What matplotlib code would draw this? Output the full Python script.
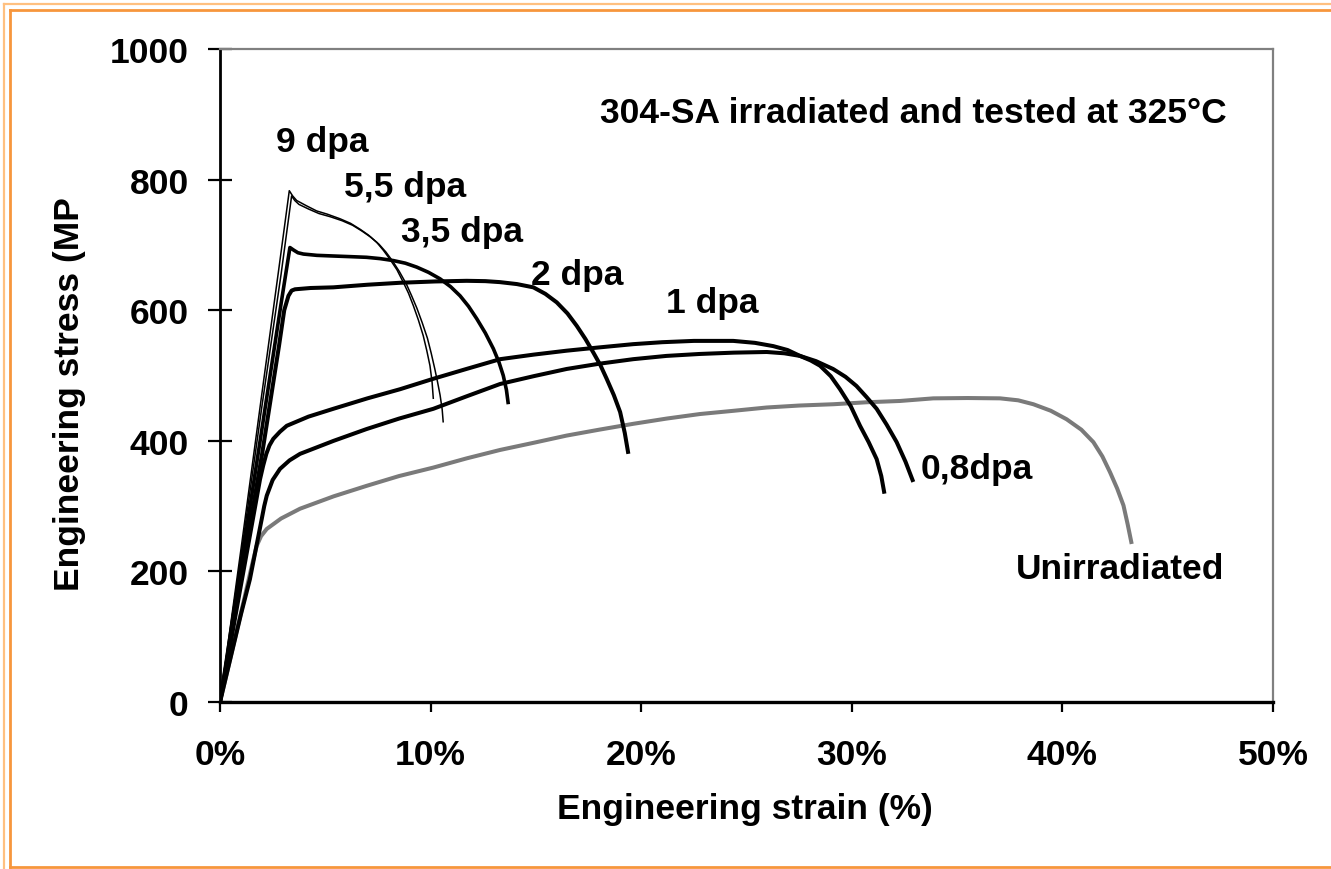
import matplotlib
matplotlib.use("Agg")
import matplotlib.pyplot as plt
from matplotlib.lines import Line2D

# ---- data (strain %, stress MPa) ----
dpa9_strain = [0, 1.0, 2.0, 2.8, 3.29, 3.45, 3.64, 4.1, 4.59, 5.1, 5.70, 6.2, 6.65, 7.05, 7.44, 7.75, 8.07,
               8.4, 8.70, 8.95, 9.18, 9.42, 9.65, 9.82, 9.97, 10.07, 10.13]
dpa9_stress = [0, 235, 475, 665, 783, 775, 768, 760, 752, 747, 740, 733, 724, 715, 704, 692, 678,
               662, 643, 626, 607, 585, 561, 538, 515, 490, 464]

dpa55_strain = [0, 1.0, 2.0, 2.9, 3.40, 3.55, 3.75, 4.2, 4.7, 5.25, 5.8, 6.3, 6.75, 7.15, 7.55, 7.88, 8.2,
                8.52, 8.85, 9.1, 9.35, 9.6, 9.85, 10.03, 10.2, 10.33, 10.45, 10.55, 10.6]
dpa55_stress = [0, 225, 455, 655, 775, 768, 762, 755, 748, 743, 737, 730, 721, 712, 701, 689, 675,
                659, 640, 622, 603, 581, 557, 534, 510, 490, 470, 448, 428]

dpa35_strain = [0, 1.0, 2.0, 2.9, 3.32, 3.5, 3.7, 3.96, 4.6, 5.38, 6.2, 6.96, 7.6, 8.23, 8.8, 9.34, 9.9,
                10.45, 10.95, 11.40, 11.8, 12.19, 12.6, 12.98, 13.25, 13.45, 13.6, 13.69]
dpa35_stress = [0, 210, 420, 610, 696, 692, 688, 686, 684, 683, 682, 681, 679, 676, 672, 666, 658,
                648, 636, 622, 606, 587, 565, 541, 520, 500, 478, 456]

dpa2_strain = [0, 1.0, 2.0, 2.8, 3.05, 3.25, 3.4, 3.56, 4.3, 5.38, 7.0, 8.55, 10.2, 11.71, 12.6, 13.29,
               14.1, 14.88, 15.45, 15.99, 16.5, 16.94, 17.35, 17.73, 18.06, 18.36, 18.7, 19.0, 19.22, 19.39]
dpa2_stress = [0, 190, 380, 545, 600, 622, 630, 632, 634, 635, 639, 642, 644, 645, 644.5, 643,
               640, 635, 625, 612, 595, 576, 556, 535, 516, 495, 470, 444, 412, 380]

dpa1_strain = [0, 1.0, 1.7, 1.9, 2.05, 2.2, 2.35, 2.53, 2.85, 3.17, 4.2, 5.38, 7.0, 8.55, 10.13, 11.7,
               13.3, 14.9, 16.46, 18.0, 19.62, 21.0, 22.5, 24.37, 25.4, 26.27, 26.95, 27.54, 28.05,
               28.49, 29.0, 29.44, 29.95, 30.39, 30.8, 31.18, 31.4, 31.55]
dpa1_stress = [0, 180, 305, 341, 362, 380, 393, 403, 414, 423, 437, 449, 465, 479, 495, 510,
               525, 532, 538, 543, 548, 551, 553, 553, 550, 545, 539, 530, 523,
               515, 499, 479, 453, 423, 398, 372, 346, 319]

dpa08_strain = [0, 1.0, 1.42, 1.98, 2.1, 2.22, 2.5, 2.85, 3.3, 3.80, 5.4, 6.96, 8.5, 10.13, 11.7, 13.3,
                14.9, 16.46, 18.0, 19.62, 21.2, 22.79, 24.4, 25.96, 26.8, 27.54, 28.3, 29.11, 29.7,
                30.22, 30.7, 31.18, 31.65, 32.13, 32.55, 32.92]
dpa08_stress = [0, 135, 188, 280, 300, 316, 340, 357, 370, 380, 400, 418, 434, 449, 468, 487,
                499, 510, 518, 525, 530, 533, 535, 536, 534, 530, 522, 510, 498,
                484, 467, 449, 425, 398, 368, 337]

unirr_strain = [0, 1.0, 1.5, 1.74, 1.95, 2.22, 2.9, 3.80, 5.4, 6.96, 8.5, 10.13, 11.7, 13.30, 14.9,
                16.46, 18.0, 19.62, 21.2, 22.79, 24.4, 25.96, 27.5, 29.13, 30.7, 32.29, 33.87, 35.5,
                37.04, 37.9, 38.62, 39.45, 40.20, 40.9, 41.47, 41.9, 42.26, 42.6, 42.90, 43.1, 43.29]
unirr_stress = [0, 137, 207, 239, 254, 265, 281, 296, 315, 331, 346, 359, 373, 386, 397,
                408, 417, 426, 434, 441, 446, 451, 454, 456, 459, 461, 465, 465.5,
                465, 462, 456, 446, 433, 417, 398, 376, 352, 327, 301, 272, 242]

x_ticks = [0, 10, 20, 30, 40, 50]
x_tick_labels = ["0%", "10%", "20%", "30%", "40%", "50%"]
y_ticks = [0, 200, 400, 600, 800, 1000]

labels = ["9 dpa", "5,5 dpa", "3,5 dpa", "2 dpa", "1 dpa", "0,8dpa", "Unirradiated"]
label_x = [4.84, 8.78, 11.49, 16.95, 23.36, 35.94, 42.74]
label_y = [859, 790, 720, 655, 612, 357, 204]

title_text = "304-SA irradiated and tested at 325°C"

# ---- figure ----
W, H = 1331, 870
fig = plt.figure(figsize=(W / 100, H / 100), dpi=100)
FONT = "Liberation Sans"
FS = 25.5

ax = fig.add_axes([220 / W, 1 - 703 / H, (1273 - 220) / W, (703 - 50) / H])
ax.set_xlim(0, 50)
ax.set_ylim(0, 1000)

kw = dict(solid_capstyle="butt", solid_joinstyle="round")
ax.plot(unirr_strain, unirr_stress, color="#7a7a7a", lw=2.9, **kw)
ax.plot(dpa08_strain, dpa08_stress, color="black", lw=2.9, **kw)
ax.plot(dpa1_strain, dpa1_stress, color="black", lw=2.9, **kw)
ax.plot(dpa2_strain, dpa2_stress, color="black", lw=2.9, **kw)
ax.plot(dpa35_strain, dpa35_stress, color="black", lw=2.6, **kw)
ax.plot(dpa55_strain, dpa55_stress, color="black", lw=1.1, **kw)
ax.plot(dpa9_strain, dpa9_stress, color="black", lw=1.1, **kw)

for t, x, y in zip(labels, label_x, label_y):
    ax.text(x, y, t, ha="center", va="center", fontsize=FS, fontweight="bold", family=FONT)

ax.text(32.9, 903, title_text, ha="center", va="center", fontsize=FS, fontweight="bold", family=FONT)

ax.set_xticks(x_ticks)
ax.set_xticklabels(x_tick_labels)
ax.set_yticks(y_ticks)
ax.set_yticklabels([str(v) for v in y_ticks])
for lab in ax.get_xticklabels() + ax.get_yticklabels():
    lab.set_fontfamily(FONT)
    lab.set_fontweight("bold")
    lab.set_fontsize(FS)

ax.tick_params(axis="y", direction="inout", length=17, width=1.6, pad=14)
ax.tick_params(axis="x", direction="out", length=7, width=1.6, pad=19)

ax.spines["left"].set_linewidth(2.0)
ax.spines["bottom"].set_linewidth(2.4)
ax.spines["left"].set_color("black")
ax.spines["bottom"].set_color("black")
ax.spines["top"].set_color("#808080")
ax.spines["right"].set_color("#808080")
ax.spines["top"].set_linewidth(1.6)
ax.spines["right"].set_linewidth(1.6)

fig.text(745 / W, 1 - 810 / H, "Engineering strain (%)", ha="center", va="center",
         fontsize=FS, fontweight="bold", family=FONT)
fig.text(70 / W, 1 - 394 / H, "Engineering stress (MP", ha="center", va="center",
         rotation=90, fontsize=FS, fontweight="bold", family=FONT)

# ---- orange border ----
def fline(x0, y0, x1, y1, color, lw):
    fig.add_artist(Line2D([x0 / W, x1 / W], [1 - y0 / H, 1 - y1 / H],
                          transform=fig.transFigure, color=color, lw=lw))

fline(4, 5, W, 5, "#FFC080", 1.6)
fline(4, 5, 4, H, "#FFC080", 1.6)
fline(10, 11, W, 11, "#F7963C", 2.0)
fline(10, 11, 10, 868, "#F7963C", 2.0)
fline(10, 868, W, 868, "#F7963C", 2.0)

fig.savefig("out.png", dpi=100)
